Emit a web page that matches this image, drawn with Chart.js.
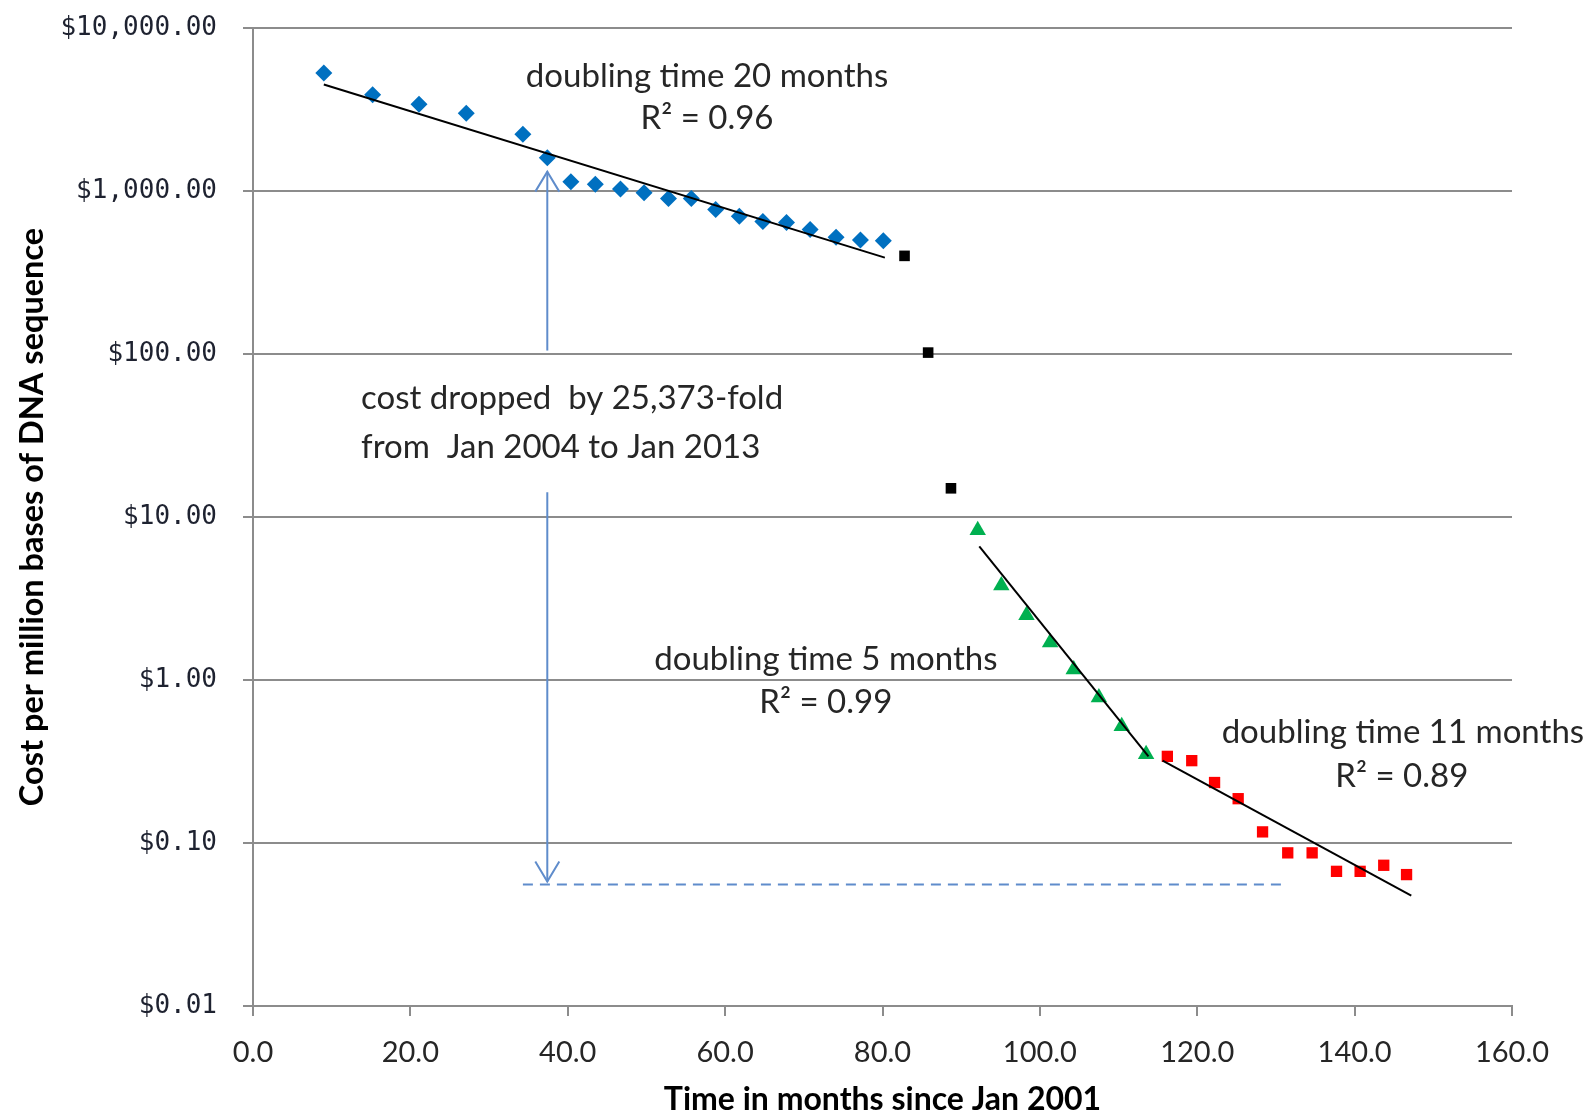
<!DOCTYPE html>
<html lang="en">
<head>
<meta charset="UTF-8" />
<title>Cost per million bases of DNA sequence</title>
<style>
  body { margin: 0; background: #fff; }
  .wrap { width: 1585px; height: 1117px; position: relative; }
</style>
</head>
<body>
<div class="wrap"><canvas id="costChart"></canvas></div>

<script src="https://cdn.jsdelivr.net/npm/chart.js@4"></script>
<script>
  // values (months since Jan 2001, $ per Mb)
  const blueMonths = [9.0, 15.2, 21.1, 27.1, 34.3, 37.4, 40.4, 43.5, 46.7, 49.7, 52.8, 55.7, 58.8, 61.8, 64.8, 67.8, 70.8, 74.1, 77.2, 80.1];
  const blueCost = [5300, 3900, 3400, 3000, 2230, 1600, 1140, 1100, 1030, 975, 900, 900, 770, 700, 650, 640, 580, 520, 500, 495];

  const blackMonths = [82.8, 85.8, 88.7];
  const blackCost = [400, 102, 15];

  const greenMonths = [92.1, 95.1, 98.3, 101.3, 104.3, 107.5, 110.4, 113.5];
  const greenCost = [8.3, 3.8, 2.5, 1.7, 1.16, 0.78, 0.52, 0.35];

  const redMonths = [116.2, 119.3, 122.2, 125.2, 128.3, 131.5, 134.6, 137.7, 140.7, 143.7, 146.6];
  const redCost = [0.34, 0.32, 0.235, 0.187, 0.117, 0.087, 0.087, 0.067, 0.067, 0.073, 0.064];

  // fitted trend lines (end points)
  const trend20Months = [9.0, 80.3];
  const trend20Cost = [4500, 390];
  const trend5Months = [92.3, 113.8];
  const trend5Cost = [6.6, 0.34];
  const trend11Months = [115.6, 147.2];
  const trend11Cost = [0.32, 0.0475];

  // the "25,373-fold" arrows and the dashed level line
  const arrowUpMonths = [37.4, 37.4];
  const arrowUpCost = [105, 1315];
  const arrowDownMonths = [37.4, 37.4];
  const arrowDownCost = [14.2, 0.058];
  const dashMonths = [34.3, 130.7];
  const dashCost = [0.0556, 0.0556];

  const yTicks = [0.01, 0.1, 1, 10, 100, 1000, 10000];

  const pts = (xs, ys) => xs.map((x, i) => ({ x, y: ys[i] }));

  const textFont = '33px Lato, "Open Sans", sans-serif';
  const arrowColor = '#5f8ccb';

  const notes = [
    { text: 'doubling time 20 months', x: 57.7, y: 4365, align: 'center' },
    { text: 'R\u00b2 = 0.96', x: 57.7, y: 2396, align: 'center' },
    { text: 'cost dropped  by 25,373-fold', x: 13.74, y: 45.8, align: 'left' },
    { text: 'from  Jan 2004 to Jan 2013', x: 13.74, y: 23.1, align: 'left' },
    { text: 'doubling time 5 months', x: 72.8, y: 1.148, align: 'center' },
    { text: 'R\u00b2 = 0.99', x: 72.8, y: 0.63, align: 'center' },
    { text: 'doubling time 11 months', x: 123.1, y: 0.4107, align: 'left' },
    { text: 'R\u00b2 = 0.89', x: 146.0, y: 0.222, align: 'center' }
  ];

  // text labels + open arrow heads
  const notesPlugin = {
    id: 'notes',
    afterDatasetsDraw(chart) {
      const { ctx, scales: { x, y } } = chart;
      ctx.save();

      chart.data.datasets.forEach((ds, i) => {
        if (!ds.arrowHead) return;
        const meta = chart.getDatasetMeta(i);
        const tip = meta.data[meta.data.length - 1];
        const prev = meta.data[meta.data.length - 2];
        const dir = Math.sign(tip.y - prev.y);
        ctx.strokeStyle = arrowColor;
        ctx.lineWidth = 2;
        ctx.beginPath();
        ctx.moveTo(tip.x - 12, tip.y - dir * 20);
        ctx.lineTo(tip.x, tip.y);
        ctx.lineTo(tip.x + 12, tip.y - dir * 20);
        ctx.stroke();
      });

      ctx.fillStyle = '#262626';
      ctx.font = textFont;
      ctx.textBaseline = 'alphabetic';
      notes.forEach(n => {
        ctx.textAlign = n.align;
        ctx.fillText(n.text, x.getPixelForValue(n.x), y.getPixelForValue(n.y));
      });
      ctx.restore();
    }
  };

  const ctx = document.getElementById('costChart').getContext('2d');
  new Chart(ctx, {
    type: 'scatter',
    data: {
      datasets: [
        { data: pts(trend20Months, trend20Cost), showLine: true, borderColor: '#000', borderWidth: 2, pointRadius: 0 },
        { data: pts(trend5Months, trend5Cost), showLine: true, borderColor: '#000', borderWidth: 2, pointRadius: 0 },
        { data: pts(trend11Months, trend11Cost), showLine: true, borderColor: '#000', borderWidth: 2, pointRadius: 0 },
        { data: pts(blueMonths, blueCost), pointStyle: 'rectRot', pointRadius: 8.5, backgroundColor: '#0070c0', borderColor: '#0070c0', borderWidth: 0 },
        { data: pts(blackMonths, blackCost), pointStyle: 'rect', pointRadius: 7.5, backgroundColor: '#000', borderColor: '#000', borderWidth: 0 },
        { data: pts(greenMonths, greenCost), pointStyle: 'triangle', pointRadius: 9.5, backgroundColor: '#00b050', borderColor: '#00b050', borderWidth: 0 },
        { data: pts(redMonths, redCost), pointStyle: 'rect', pointRadius: 8, backgroundColor: '#ff0000', borderColor: '#ff0000', borderWidth: 0 },
        { data: pts(arrowUpMonths, arrowUpCost), showLine: true, borderColor: arrowColor, borderWidth: 2, pointRadius: 0, arrowHead: true },
        { data: pts(arrowDownMonths, arrowDownCost), showLine: true, borderColor: arrowColor, borderWidth: 2, pointRadius: 0, arrowHead: true },
        { data: pts(dashMonths, dashCost), showLine: true, borderColor: arrowColor, borderWidth: 2, borderDash: [10, 7], pointRadius: 0 }
      ]
    },
    options: {
      responsive: true,
      maintainAspectRatio: false,
      animation: false,
      layout: { padding: { top: 28, right: 73, bottom: 0, left: 0 } },
      plugins: {
        legend: { display: false },
        tooltip: { enabled: false }
      },
      scales: {
        x: {
          type: 'linear',
          min: 0,
          max: 160,
          afterFit: s => { s.height = 111; },
          ticks: {
            stepSize: 20,
            padding: 19,
            color: '#262626',
            font: { family: 'Lato, "Open Sans", sans-serif', size: 29 },
            callback: v => v.toFixed(1)
          },
          grid: { drawOnChartArea: false, drawTicks: true, tickLength: 10, color: '#8c8c8c', lineWidth: 2 },
          border: { display: true, color: '#8c8c8c', width: 2 },
          title: {
            display: true,
            text: 'Time in months since Jan 2001',
            color: '#000',
            padding: { top: 0, bottom: 1 },
            font: { family: 'Lato, "Open Sans", sans-serif', size: 32, weight: 'bold', lineHeight: 1 }
          }
        },
        y: {
          type: 'logarithmic',
          min: 0.01,
          max: 10000,
          afterFit: s => { s.width = 253; s.paddingTop = 0; s.paddingBottom = 0; },
          afterBuildTicks: s => { s.ticks = yTicks.map(v => ({ value: v })); },
          ticks: {
            padding: 26,
            color: '#1e2230',
            font: { family: '"DejaVu Sans Mono", monospace', size: 26 },
            callback: v => '$' + Number(v).toLocaleString('en-US', { minimumFractionDigits: 2, maximumFractionDigits: 2 })
          },
          grid: { drawOnChartArea: true, drawTicks: true, tickLength: 10, color: '#8c8c8c', lineWidth: 2 },
          border: { display: true, color: '#8c8c8c', width: 2 },
          title: {
            display: true,
            text: 'Cost per million bases of DNA sequence',
            color: '#000',
            padding: { top: 16, bottom: 0 },
            font: { family: 'Lato, "Open Sans", sans-serif', size: 32.5, weight: 'bold', lineHeight: 1 }
          }
        }
      }
    },
    plugins: [notesPlugin]
  });
</script>
</body>
</html>
